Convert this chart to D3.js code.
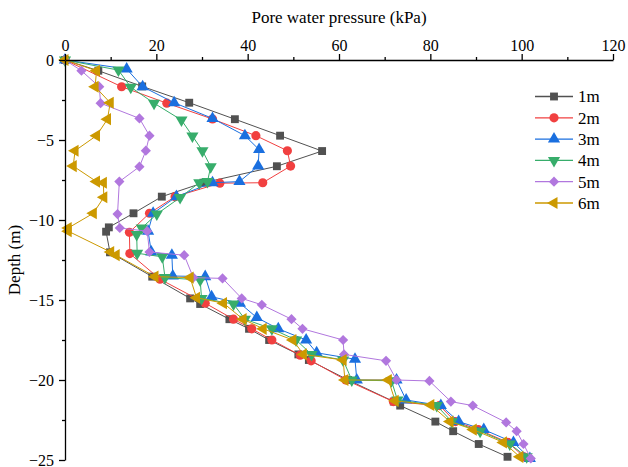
<!DOCTYPE html>
<html lang="en">
    <head>
        <meta charset="utf-8">
        <title>Pore water pressure vs depth</title>
        <script src="https://d3js.org/d3.v7.min.js"></script>
        <style type="text/css">
            body { margin: 0; background: #fff; }
            svg text { font-family: "Liberation Serif", "Times New Roman", serif !important; fill: #000; }
        </style>
    </head>
    <body>
        <script type="text/javascript">

            //consts
            const w = 628;
            const h = 467;
            const mLeft = 65, mRight = 613, mTop = 60, mBottom = 460;

            //data - depth (m) and pore water pressure (kPa) per series
            const seriesNames = ["1m", "2m", "3m", "4m", "5m", "6m"];
            const seriesColors = ["#515151", "#F14040", "#1A6FDF", "#37AD6B", "#B177DE", "#CC9900"];

            const depth1 = [0, -0.67, -1.65, -2.67, -3.7, -4.73, -5.69, -6.64, -7.67, -8.54, -9.58, -10.46, -10.73, -12.02, -13.54, -14.9, -15.25, -16.2, -16.8, -17.5, -18.4, -18.75, -20.0, -21.35, -21.6, -22.6, -23.2, -24.0, -24.8];
            const pwp1 = [0, 7.3, 16.9, 27.2, 37.2, 47.1, 56.3, 46.4, 30.3, 21.2, 15.0, 9.6, 9.0, 9.85, 19.1, 27.4, 29.6, 36.0, 40.3, 44.7, 51.1, 53.4, 62.0, 72.0, 73.4, 81.1, 85.0, 90.6, 96.9];

            const depth2 = [0, -1.67, -2.7, -3.69, -4.73, -5.67, -6.63, -7.67, -7.7, -8.54, -9.58, -10.77, -12.1, -13.7, -15.2, -16.2, -16.8, -17.5, -18.45, -18.8, -20.0, -21.35, -21.6, -22.6, -23.1, -23.9, -24.8];
            const pwp2 = [0, 12.4, 22.3, 32.3, 41.8, 48.7, 49.4, 43.3, 33.9, 24.1, 18.5, 14.1, 14.2, 20.8, 30.7, 36.9, 40.9, 45.3, 51.5, 53.9, 61.5, 71.9, 82.0, 85.5, 90.5, 97.0, 100.5];

            const depth3 = [0, -0.56, -1.67, -2.67, -3.65, -4.73, -5.6, -6.63, -7.6, -7.67, -8.54, -9.58, -10.7, -12.0, -12.2, -13.5, -13.54, -14.8, -15.2, -16.1, -16.8, -17.5, -18.3, -18.7, -20.0, -20.0, -21.25, -21.6, -22.6, -23.1, -23.9, -24.9];
            const pwp3 = [0, 13.5, 17.0, 23.9, 32.3, 39.4, 42.5, 42.3, 38.2, 32.3, 24.4, 19.3, 18.2, 18.9, 23.4, 23.6, 30.7, 32.1, 38.3, 42.0, 46.7, 52.8, 55.1, 63.5, 63.9, 72.6, 74.7, 82.3, 86.2, 91.7, 98.2, 101.8];

            const depth4 = [0, -0.63, -1.7, -2.7, -3.75, -4.75, -5.67, -6.67, -7.6, -7.67, -8.6, -9.63, -10.5, -10.9, -12.08, -12.3, -13.6, -13.75, -14.9, -15.25, -16.2, -16.8, -17.5, -18.4, -18.75, -20.0, -20.05, -21.25, -21.6, -22.6, -23.2, -24.0, -24.8];
            const pwp4 = [0, 11.7, 14.4, 19.5, 25.5, 27.9, 30.1, 31.9, 31.2, 29.4, 25.2, 20.1, 16.8, 15.7, 15.8, 21.3, 21.9, 29.6, 29.9, 36.9, 39.4, 45.3, 50.6, 54.0, 60.9, 62.8, 71.5, 72.8, 81.4, 84.7, 90.9, 97.4, 101.1];

            const depth5 = [0, -0.67, -1.67, -2.7, -3.65, -4.73, -5.67, -6.67, -7.6, -9.63, -10.5, -10.7, -12.0, -12.2, -13.6, -13.65, -14.9, -15.3, -16.2, -16.8, -17.5, -18.4, -18.8, -20.0, -20.06, -21.35, -21.6, -22.65, -23.2, -24.0, -24.9];
            const pwp5 = [0, 3.6, 7.5, 7.8, 16.3, 18.5, 17.7, 16.3, 11.9, 11.5, 12.0, 18.0, 18.5, 26.1, 28.1, 34.5, 38.7, 43.1, 49.6, 52.0, 60.9, 61.1, 70.3, 72.6, 79.8, 84.5, 89.3, 96.6, 98.9, 100.4, 102.0];

            const depth6 = [0, -0.67, -1.67, -2.67, -3.7, -4.73, -5.67, -6.63, -7.6, -7.67, -8.58, -9.58, -10.5, -10.7, -12.0, -12.2, -13.54, -13.6, -14.86, -15.2, -16.2, -16.8, -17.5, -18.4, -18.75, -20.0, -20.0, -21.3, -21.56, -22.6, -23.1, -23.9, -24.8];
            const pwp6 = [0, 6.9, 6.6, 9.9, 9.3, 6.9, 2.2, 1.8, 6.9, 8.4, 8.5, 6.2, 0.7, 0.7, 10.0, 11.2, 19.7, 27.4, 28.8, 34.7, 39.0, 43.4, 49.9, 52.2, 60.9, 61.3, 70.8, 72.3, 80.1, 84.3, 89.4, 96.0, 99.6];

            const depths = [depth1, depth2, depth3, depth4, depth5, depth6];
            const pwps = [pwp1, pwp2, pwp3, pwp4, pwp5, pwp6];

            const xTicks = [0, 20, 40, 60, 80, 100, 120];
            const yTicks = [0, -5, -10, -15, -20, -25];

            //marker shapes: square, circle, up, down, diamond, left
            const shapes = [
                {type: d3.symbolSquare, size: 62, rot: 0},
                {type: d3.symbolCircle, size: 66, rot: 0},
                {type: d3.symbolTriangle, size: 64, rot: 0},
                {type: d3.symbolTriangle, size: 64, rot: 180},
                {type: d3.symbolSquare, size: 52, rot: 45},
                {type: d3.symbolTriangle, size: 64, rot: -90}
            ];

            //scales
            const xScale = d3.scaleLinear().domain([0, 120]).range([mLeft, mRight]);
            const yScale = d3.scaleLinear().domain([0, -25]).range([mTop, mBottom]);

            //SVG
            const svg = d3.select("body")
                    .append("svg")
                    .attr("width", w)
                    .attr("height", h);

            //series
            const line = d3.line().x(d => xScale(d[1])).y(d => yScale(d[0]));

            depths.forEach((dep, i) => {
                const pts = dep.map((d, j) => [d, pwps[i][j]]);
                const g = svg.append("g").attr("class", "series");
                g.append("path")
                 .datum(pts)
                 .attr("d", line)
                 .attr("fill", "none")
                 .attr("stroke", seriesColors[i])
                 .attr("stroke-width", 1);
                g.selectAll("path.mark")
                 .data(pts)
                 .enter()
                 .append("path")
                 .attr("class", "mark")
                 .attr("d", d3.symbol().type(shapes[i].type).size(shapes[i].size))
                 .attr("transform", d => "translate(" + xScale(d[1]) + "," + yScale(d[0]) + ") rotate(" + shapes[i].rot + ")")
                 .attr("fill", seriesColors[i]);
            });

            //top axis
            const topAxis = d3.axisTop(xScale).tickValues(xTicks).tickSize(6).tickSizeOuter(0).tickPadding(3).tickFormat(d3.format("d"));
            svg.append("g")
               .attr("class", "axis")
               .attr("transform", "translate(0," + mTop + ")")
               .call(topAxis);
            svg.append("g")
               .attr("transform", "translate(0," + mTop + ")")
               .call(d3.axisTop(xScale).tickValues(d3.range(10, 120, 20)).tickSize(3).tickFormat(""))
               .select(".domain").remove();

            //left axis
            const leftAxis = d3.axisLeft(yScale).tickValues(yTicks).tickSize(6).tickSizeOuter(0).tickPadding(5).tickFormat(d3.format("d"));
            svg.append("g")
               .attr("class", "axis")
               .attr("transform", "translate(" + mLeft + ",0)")
               .call(leftAxis);
            svg.append("g")
               .attr("transform", "translate(" + mLeft + ",0)")
               .call(d3.axisLeft(yScale).tickValues([-2.5, -7.5, -12.5, -17.5, -22.5]).tickSize(3).tickFormat(""))
               .select(".domain").remove();

            svg.selectAll(".domain, .tick line").attr("stroke", "#000").attr("stroke-width", 1.3);
            svg.selectAll(".axis .tick text")
               .style("font-size", "16px")
               .style("font-family", "'Liberation Serif', serif")
               .attr("fill", "#000");
            svg.selectAll("g.axis").attr("font-family", null);

            //axis titles
            svg.append("text")
               .attr("x", (mLeft + mRight) / 2)
               .attr("y", 23)
               .attr("text-anchor", "middle")
               .style("font-size", "17px")
               .text("Pore water pressure (kPa)");

            svg.append("text")
               .attr("transform", "translate(20," + ((mTop + mBottom) / 2) + ") rotate(-90)")
               .attr("text-anchor", "middle")
               .style("font-size", "17px")
               .text("Depth (m)");

            //legend
            const legend = svg.append("g").attr("class", "legend");
            seriesNames.forEach((name, i) => {
                const ly = 96.5 + i * 21.3;
                legend.append("line")
                      .attr("x1", 535).attr("x2", 573)
                      .attr("y1", ly).attr("y2", ly)
                      .attr("stroke", seriesColors[i])
                      .attr("stroke-width", 1.3);
                legend.append("path")
                      .attr("d", d3.symbol().type(shapes[i].type).size(shapes[i].size))
                      .attr("transform", "translate(554," + ly + ") rotate(" + shapes[i].rot + ")")
                      .attr("fill", seriesColors[i]);
                legend.append("text")
                      .attr("x", 578)
                      .attr("y", ly)
                      .attr("dy", "0.35em")
                      .style("font-size", "17px")
                      .text(name);
            });
        </script>
    </body>
</html>
